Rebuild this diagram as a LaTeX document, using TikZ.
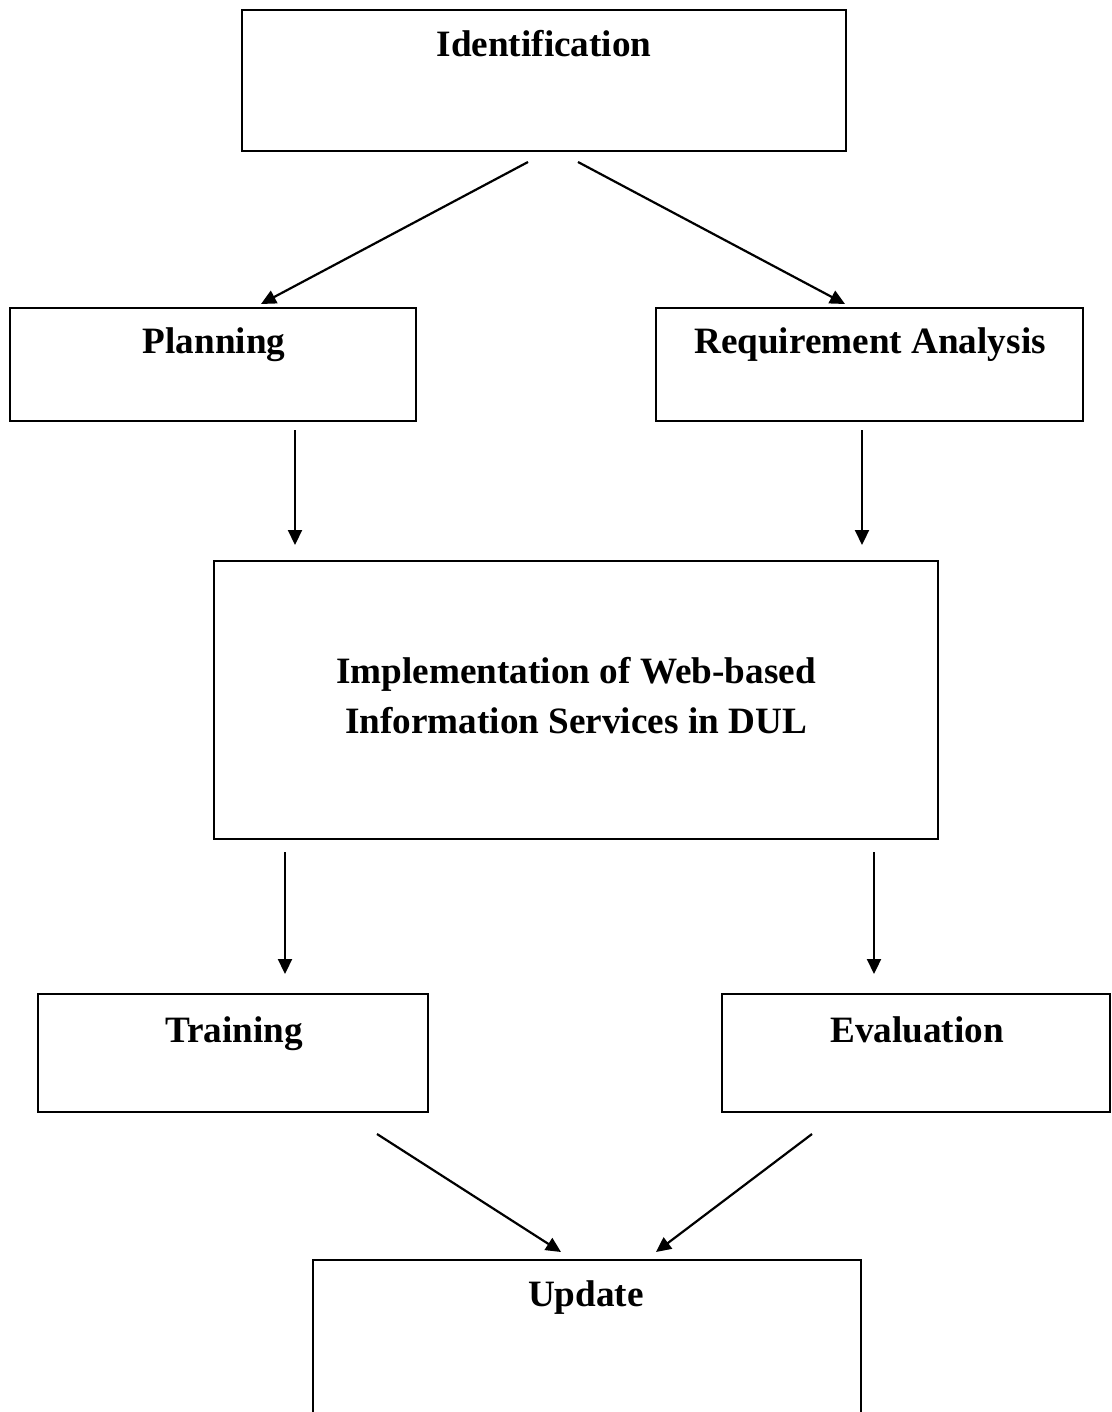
\documentclass[tikz,border=0pt]{standalone}
\usepackage{fontspec}
\setmainfont{Liberation Serif}
\usetikzlibrary{positioning, calc, arrows.meta, fit}
\tikzset{
box/.style = {rectangle, draw, line width = 1.1pt, inner sep = 0pt, outer sep = 0pt},
title/.style = {font = \fontsize{18.6pt}{25pt}\selectfont\bfseries, inner sep = 0pt,
   align = center},
flow/.style = {-{Triangle[length = 7.5pt, width = 7pt]}, line width = 1.1pt}
}

\begin{document}
\begin{tikzpicture}[x = 0.5pt, y = -0.5pt]

\clip (0,0) rectangle (1112,1412);

%% The boxes
\node [box, fit = {(242,10) (846,151)}] (ident) {};
\node [box, fit = {(10,308) (416,421)}] (plan) {};
\node [box, fit = {(656,308) (1083,421)}] (req) {};
\node [box, fit = {(214,561) (938,839)}] (impl) {};
\node [box, fit = {(38,994) (428,1112)}] (train) {};
\node [box, fit = {(722,994) (1110,1112)}] (eval) {};
\node [box, fit = {(313,1260) (861,1450)}] (upd) {};

%% Their titles
\node [title, anchor = base] (ident-t) at (544,57) {Identification};
\node [title, anchor = base] (plan-t) at (214,353) {Planning};
\node [title, anchor = base] (req-t) at (870,353) {Requirement Analysis};
\node [title] (impl-t) at (576,696) {Implementation of Web-based\\Information Services in DUL};
\node [title, anchor = base] (train-t) at (234,1042) {Training};
\node [title, anchor = base] (eval-t) at (917,1042) {Evaluation};
\node [title, anchor = base] (upd-t) at (586,1306) {Update};

%% Arrow ends
\coordinate (id-l) at (528,162);
\coordinate (id-r) at (578,162);
\coordinate (plan-in) at (261,304);
\coordinate (req-in) at (845,304);
\coordinate (plan-out) at (295,430);
\coordinate (req-out) at (862,430);
\coordinate (impl-l) at (295,545);
\coordinate (impl-r) at (862,545);
\coordinate (impl-bl) at (285,852);
\coordinate (impl-br) at (874,852);
\coordinate (train-in) at (285,974);
\coordinate (eval-in) at (874,974);
\coordinate (train-out) at (377,1134);
\coordinate (eval-out) at (812,1134);
\coordinate (upd-l) at (561,1252);
\coordinate (upd-r) at (656,1252);

%% Arrows
\path [flow] (id-l) edge (plan-in);
\path [flow] (id-r) edge (req-in);
\path [flow] (plan-out) edge (impl-l);
\path [flow] (req-out) edge (impl-r);
\path [flow] (impl-bl) edge (train-in);
\path [flow] (impl-br) edge (eval-in);
\path [flow] (train-out) edge (upd-l);
\path [flow] (eval-out) edge (upd-r);

\end{tikzpicture}
\end{document}
